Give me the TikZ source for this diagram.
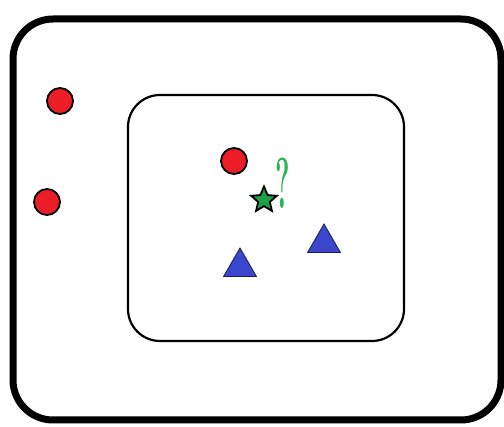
\documentclass[tikz,border=0pt]{standalone}
\usepackage{xcolor}
\usetikzlibrary{positioning,shapes}
\definecolor{dotred}{RGB}{235,30,40}
\definecolor{stargreen}{RGB}{30,160,70}
\definecolor{qgreen}{RGB}{45,180,85}
\definecolor{tribrown}{RGB}{60,70,205}

\begin{document}
\begin{tikzpicture}[x=1pt,y=-1pt,
    dot/.style={circle,draw=black,line width=1.8pt,fill=dotred,minimum size=26pt,inner sep=0pt},
    tri/.style={regular polygon,regular polygon sides=3,draw=tribrown!40!black,line width=0.8pt,fill=tribrown,minimum size=38pt,inner sep=0pt},
    sstar/.style={star,star points=5,star point ratio=2.2,draw=black,line width=1.8pt,fill=stargreen,minimum size=27pt,inner sep=0pt}]
      \useasboundingbox (0,0) rectangle (504,427);
      % boxes
      \draw[line width=7pt,rounded corners=40pt] (13,19) rectangle (501,420);
      \draw[line width=2.2pt,rounded corners=32pt] (128,95) rectangle (404,341);
      % points outside
      \node[dot] (a) at (60,101) {};
      \node[dot] (b) at (47,202) {};
      % points inside
      \node[dot] (c) at (234,161) {};
      \node[sstar] (s) at (264,200) {};
      \node[text=qgreen,font=\fontsize{72}{72}\selectfont\bfseries,inner sep=0pt] (q) at (283,183) {\scalebox{0.38}[1]{?}};
      \node[tri] (t1) at (240,267) {};
      \node[tri] (t2) at (324,243) {};
    \end{tikzpicture}
\end{document}
